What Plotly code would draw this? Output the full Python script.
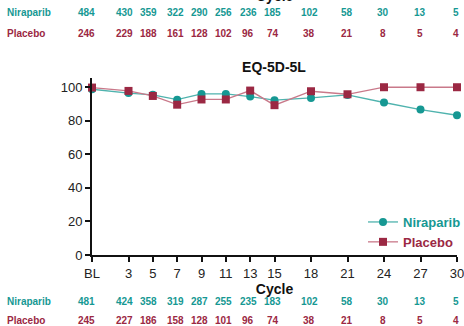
import plotly.graph_objects as go

cycles = [0, 3, 5, 7, 9, 11, 13, 15, 18, 21, 24, 27, 30]
tick_labels = ["BL", "3", "5", "7", "9", "11", "13", "15", "18", "21", "24", "27", "30"]
niraparib = [98.8, 96.5, 95.5, 92.6, 96.0, 96.0, 94.4, 92.3, 93.6, 95.4, 90.9, 86.7, 83.3]
placebo = [99.8, 97.8, 94.8, 89.6, 92.7, 92.7, 98.0, 89.3, 97.6, 95.8, 100.0, 100.0, 100.0]
n_top_nir = [484, 430, 359, 322, 290, 256, 236, 185, 102, 58, 30, 13, 5]
n_top_pla = [246, 229, 188, 161, 128, 102, 96, 74, 38, 21, 8, 5, 4]
n_bot_nir = [481, 424, 358, 319, 287, 255, 235, 183, 102, 58, 30, 13, 5]
n_bot_pla = [245, 227, 186, 158, 128, 101, 96, 74, 38, 21, 8, 5, 4]

TEAL = "#169893"
TEAL_LINE = "#4fb3ae"
MAROON = "#9b2843"
MAROON_LINE = "#c9798a"
FONT = "Liberation Sans, Arial, sans-serif"

PL, PR, PT, PB = 92, 457, 78, 255  # plot area pixels

fig = go.Figure()
fig.add_trace(go.Scatter(
    x=cycles, y=niraparib, mode="lines+markers",
    name=f"<span style='color:{TEAL}'><b>Niraparib</b></span>",
    line=dict(color=TEAL_LINE, width=1.3),
    marker=dict(symbol="circle", size=8, color=TEAL),
    cliponaxis=False,
))
fig.add_trace(go.Scatter(
    x=cycles, y=placebo, mode="lines+markers",
    name=f"<span style='color:{MAROON}'><b>Placebo</b></span>",
    line=dict(color=MAROON_LINE, width=1.3),
    marker=dict(symbol="square", size=8, color=MAROON),
    cliponaxis=False,
))

def ypaper(ypix):
    return (PB - ypix) / (PB - PT)

def xpaper(xpix):
    return (xpix - PL) / (PR - PL)

ann = []
rows = [(n_top_nir, TEAL, "Niraparib", 13), (n_top_pla, MAROON, "Placebo", 33),
        (n_bot_nir, TEAL, "Niraparib", 301), (n_bot_pla, MAROON, "Placebo", 320)]
for vals, col, lab, ypix in rows:
    yp = ypaper(ypix)
    ann.append(dict(text=f"<b>{lab}</b>", xref="paper", yref="paper", x=xpaper(5), y=yp,
                    xanchor="left", yanchor="middle", showarrow=False,
                    font=dict(size=10, color=col, family=FONT)))
    for i, (cx, v) in enumerate(zip(cycles, vals)):
        shift = -6 if i == 0 else (-4 if i < 3 else (-2 if i < 9 else -1))
        ann.append(dict(text=f"<b>{v}</b>", xref="x", yref="paper", x=cx, y=yp,
                        xshift=shift, xanchor="center", yanchor="middle", showarrow=False,
                        font=dict(size=10, color=col, family=FONT)))
# partial "Cycle" title at very top (clipped by the page edge)
ann.append(dict(text="<b>Cycle</b>", xref="x", yref="paper", x=15, y=ypaper(-4),
                xanchor="center", yanchor="middle", showarrow=False,
                font=dict(size=14, color="#111", family=FONT)))

fig.update_layout(
    width=464, height=326,
    margin=dict(l=PL, r=464 - PR, t=PT, b=326 - PB, autoexpand=False),
    paper_bgcolor="white", plot_bgcolor="white",
    font=dict(family=FONT, color="#222"),
    title=dict(text="<b>EQ-5D-5L</b>", x=274 / 464, xanchor="center", y=1 - 67 / 326,
               yanchor="middle", font=dict(size=14, color="#111", family=FONT)),
    showlegend=True,
    legend=dict(x=xpaper(466), y=ypaper(232), xanchor="right", yanchor="middle",
                font=dict(size=13, family=FONT), bgcolor="rgba(0,0,0,0)",
                tracegroupgap=0, itemwidth=30),
    annotations=ann,
)
fig.update_xaxes(
    range=[0, 30], tickvals=cycles, ticktext=tick_labels, automargin=False,
    ticklabeloverflow="allow",
    showline=True, linecolor="#111", linewidth=2, ticks="outside", tickcolor="#111",
    ticklen=5, tickwidth=1.5, showgrid=False, zeroline=False,
    tickfont=dict(size=13, color="#222"),
    title=dict(text="<b>Cycle</b>", font=dict(size=14, color="#111"), standoff=4),
)
fig.update_yaxes(
    range=[0, 105.5], tickvals=[0, 20, 40, 60, 80, 100], automargin=False,
    ticklabeloverflow="allow",
    showline=True, linecolor="#111", linewidth=2, ticks="outside", tickcolor="#111",
    ticklen=5, tickwidth=1.5, showgrid=False, zeroline=False,
    tickfont=dict(size=13, color="#222"),
)
fig.write_html("out.html", config={"displayModeBar": False},
               post_script="document.body.style.margin='0';document.body.style.overflow='hidden';")
